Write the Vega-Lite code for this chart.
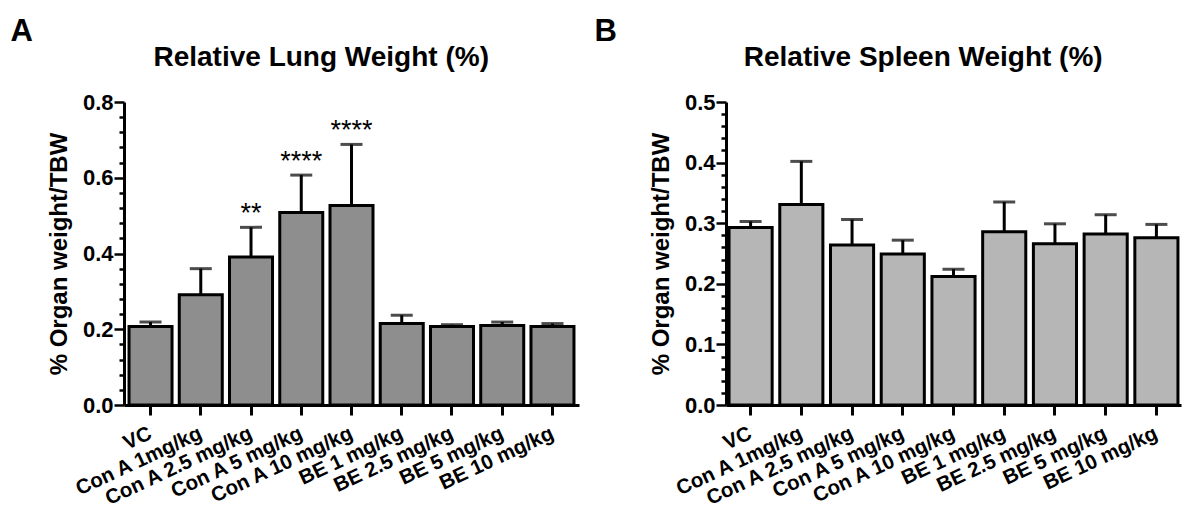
{
  "$schema": "https://vega.github.io/schema/vega-lite/v6.json",
  "background": "white",
  "padding": {"left": 10, "top": 16, "right": 2, "bottom": 2},
  "spacing": 15,
  "config": {
    "view": {"stroke": null},
    "font": "Liberation Sans",
    "title": {"color": "black", "font": "Liberation Sans", "fontWeight": "bold"},
    "axis": {
      "domainColor": "black", "tickColor": "black", "labelColor": "black", "titleColor": "black",
      "labelFont": "Liberation Sans", "titleFont": "Liberation Sans",
      "labelFontWeight": "bold", "titleFontWeight": "bold", "grid": false
    }
  },
  "datasets": {
    "lung": [
      {"group": "VC", "mean": 0.207, "err": 0.219, "sig": ""},
      {"group": "Con A 1mg/kg", "mean": 0.291, "err": 0.360, "sig": ""},
      {"group": "Con A 2.5 mg/kg", "mean": 0.391, "err": 0.469, "sig": "**"},
      {"group": "Con A 5 mg/kg", "mean": 0.508, "err": 0.607, "sig": "****"},
      {"group": "Con A 10 mg/kg", "mean": 0.527, "err": 0.688, "sig": "****"},
      {"group": "BE 1 mg/kg", "mean": 0.215, "err": 0.237, "sig": ""},
      {"group": "BE 2.5 mg/kg", "mean": 0.207, "err": 0.212, "sig": ""},
      {"group": "BE 5 mg/kg", "mean": 0.210, "err": 0.219, "sig": ""},
      {"group": "BE 10 mg/kg", "mean": 0.207, "err": 0.215, "sig": ""}
    ],
    "spleen": [
      {"group": "VC", "mean": 0.293, "err": 0.303},
      {"group": "Con A 1mg/kg", "mean": 0.331, "err": 0.402},
      {"group": "Con A 2.5 mg/kg", "mean": 0.264, "err": 0.306},
      {"group": "Con A 5 mg/kg", "mean": 0.249, "err": 0.272},
      {"group": "Con A 10 mg/kg", "mean": 0.212, "err": 0.224},
      {"group": "BE 1 mg/kg", "mean": 0.286, "err": 0.335},
      {"group": "BE 2.5 mg/kg", "mean": 0.266, "err": 0.299},
      {"group": "BE 5 mg/kg", "mean": 0.282, "err": 0.314},
      {"group": "BE 10 mg/kg", "mean": 0.276, "err": 0.298}
    ]
  },
  "hconcat": [
    {
      "title": {"text": "A", "anchor": "start", "frame": "bounds", "fontSize": 31, "dx": -37, "offset": -4},
      "vconcat": [
        {
          "width": 455,
          "height": 303,
          "title": {"text": "Relative Lung Weight (%)", "fontSize": 28, "anchor": "middle", "frame": "bounds", "offset": 19, "dx": 8},
          "data": {"name": "lung"},
          "encoding": {
            "x": {
              "field": "group", "type": "nominal", "sort": null,
              "scale": {"paddingInner": 0.144, "paddingOuter": 0.1},
              "axis": {
                "title": null, "labelAngle": -25, "labelAlign": "right", "labelBaseline": "middle",
                "labelFontSize": 20.5, "labelPadding": 17, "tickSize": 10, "tickWidth": 3,
                "domainWidth": 3, "labelLimit": 250
              }
            }
          },
          "layer": [
            {
              "mark": {"type": "rule", "color": "black", "strokeWidth": 3},
              "encoding": {
                "y": {
                  "field": "mean", "type": "quantitative", "title": "% Organ weight/TBW",
                  "scale": {"domain": [0, 0.8], "nice": false},
                  "axis": {
                    "values": [0, 0.04, 0.08, 0.12, 0.16, 0.2, 0.24, 0.28, 0.32, 0.36, 0.4, 0.44, 0.48, 0.52, 0.56, 0.6, 0.64, 0.68, 0.72, 0.76, 0.8],
                    "tickCount": 200,
                    "labelExpr": "abs(datum.value*5 - round(datum.value*5)) < 0.001 ? format(datum.value, '.1f') : ''",
                    "tickSize": {"condition": {"test": "abs(datum.value*5 - round(datum.value*5)) < 0.001", "value": 10}, "value": 5},
                    "labelOverlap": false, "labelFontSize": 22, "labelPadding": 1,
                    "titleFontSize": 24, "titlePadding": 11, "tickWidth": 2.5, "domainWidth": 3
                  }
                },
                "y2": {"field": "err"}
              }
            },
            {
              "mark": {"type": "tick", "orient": "horizontal", "color": "black", "size": 22, "thickness": 3},
              "encoding": {"y": {"field": "err", "type": "quantitative", "title": "% Organ weight/TBW"}}
            },
            {
              "mark": {"type": "bar", "fill": "#8e8e8e", "stroke": "black", "strokeWidth": 3},
              "encoding": {"y": {"field": "mean", "type": "quantitative", "title": "% Organ weight/TBW"}}
            },
            {
              "mark": {"type": "text", "fontSize": 27, "color": "black", "baseline": "alphabetic", "dy": -5},
              "encoding": {
                "y": {"field": "err", "type": "quantitative", "title": "% Organ weight/TBW"},
                "text": {"field": "sig"}
              }
            }
          ]
        }
      ]
    },
    {
      "title": {"text": "B", "anchor": "start", "frame": "bounds", "fontSize": 31, "dx": -55, "offset": -4},
      "vconcat": [
        {
          "width": 455,
          "height": 303,
          "title": {"text": "Relative Spleen Weight (%)", "fontSize": 28, "anchor": "middle", "frame": "bounds", "offset": 19, "dx": 8},
          "data": {"name": "spleen"},
          "encoding": {
            "x": {
              "field": "group", "type": "nominal", "sort": null,
              "scale": {"paddingInner": 0.15, "paddingOuter": 0.06},
              "axis": {
                "title": null, "labelAngle": -25, "labelAlign": "right", "labelBaseline": "middle",
                "labelFontSize": 20.5, "labelPadding": 17, "tickSize": 10, "tickWidth": 3,
                "domainWidth": 3, "labelLimit": 250
              }
            }
          },
          "layer": [
            {
              "mark": {"type": "rule", "color": "black", "strokeWidth": 3},
              "encoding": {
                "y": {
                  "field": "mean", "type": "quantitative", "title": "% Organ weight/TBW",
                  "scale": {"domain": [0, 0.5], "nice": false},
                  "axis": {
                    "values": [0, 0.02, 0.04, 0.06, 0.08, 0.1, 0.12, 0.14, 0.16, 0.18, 0.2, 0.22, 0.24, 0.26, 0.28, 0.3, 0.32, 0.34, 0.36, 0.38, 0.4, 0.42, 0.44, 0.46, 0.48, 0.5],
                    "tickCount": 200,
                    "labelExpr": "abs(datum.value*10 - round(datum.value*10)) < 0.001 ? format(datum.value, '.1f') : ''",
                    "tickSize": {"condition": {"test": "abs(datum.value*10 - round(datum.value*10)) < 0.001", "value": 10}, "value": 5},
                    "labelOverlap": false, "labelFontSize": 22, "labelPadding": 1,
                    "titleFontSize": 24, "titlePadding": 11, "tickWidth": 2.5, "domainWidth": 3
                  }
                },
                "y2": {"field": "err"}
              }
            },
            {
              "mark": {"type": "tick", "orient": "horizontal", "color": "black", "size": 22, "thickness": 3},
              "encoding": {"y": {"field": "err", "type": "quantitative", "title": "% Organ weight/TBW"}}
            },
            {
              "mark": {"type": "bar", "fill": "#b6b6b6", "stroke": "black", "strokeWidth": 3},
              "encoding": {"y": {"field": "mean", "type": "quantitative", "title": "% Organ weight/TBW"}}
            }
          ]
        }
      ]
    }
  ]
}
